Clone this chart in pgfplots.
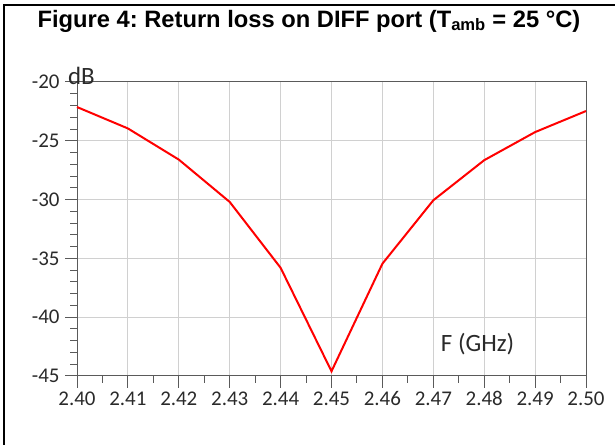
\documentclass[border=0pt]{standalone}
\usepackage{pgfplots}
\pgfplotsset{compat=1.18}
\usepackage{fontspec}
\setmainfont{Carlito}
\newfontfamily\titlefont{Liberation Sans}
\definecolor{axgray}{HTML}{5A5A5A}
\definecolor{gridgray}{HTML}{D0D0D0}
\definecolor{txt}{HTML}{2A2A2A}
\frenchspacing
\begin{document}
\begin{tikzpicture}[x=1bp,y=1bp]
\useasboundingbox (0,0) rectangle (615,445);
\draw[black, line width=2bp] (4,0) -- (4,440) -- (615,440);
\node[font=\titlefont\bfseries\fontsize{23.8}{26}\selectfont, anchor=center] at (309,424) {Figure 4: Return loss on DIFF port (T\textsubscript{amb} = 25 °C)};
\begin{axis}[
  at={(77bp,69bp)}, anchor=south west,
  scale only axis, width=509bp, height=294bp,
  xmin=2.40, xmax=2.50, ymin=-45, ymax=-20,
  xtick={2.40,2.41,...,2.50},
  xticklabels={2.40,2.41,2.42,2.43,2.44,2.45,2.46,2.47,2.48,2.49,2.50},
  ytick={-45,-40,...,-20},
  minor xtick={2.405,2.415,...,2.50},
  minor ytick={-44,-43,...,-21},
  tick align=outside,
  xtick pos=bottom, ytick pos=left,
  major tick length=12bp, minor tick length=7bp,
  every tick/.style={axgray, line width=1bp},
  grid=major,
  major grid style={gridgray, line width=1bp},
  axis line style={axgray, line width=1bp},
  every tick label/.append style={font=\fontsize{21}{23}\selectfont, text=txt},
  /pgf/number format/assume math mode=true,
  xticklabel style={text height=14bp, text depth=0bp, yshift=0bp},
  yticklabel style={xshift=-2bp},
  clip=false,
]
\addplot[red, line width=2bp] coordinates {
(2.40,-22.13) (2.41,-23.95) (2.42,-26.6) (2.43,-30.2) (2.44,-35.8)
(2.45,-44.6) (2.46,-35.45) (2.47,-30.06) (2.48,-26.65) (2.49,-24.26) (2.50,-22.47)
};
\node[font=\fontsize{25}{28}\selectfont, text=txt, anchor=south west, inner sep=1bp] at (axis cs:2.3980,-20.3) {dB};
\node[font=\fontsize{25}{28}\selectfont, text=txt] at (axis cs:2.4787,-42.3) {F (GHz)};
\end{axis}
\end{tikzpicture}
\end{document}
